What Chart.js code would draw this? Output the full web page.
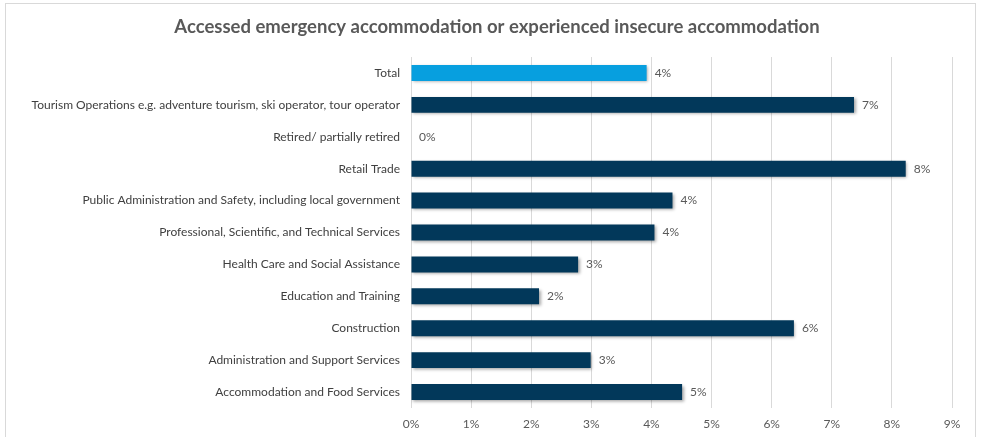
<!DOCTYPE html>
<html>
<head>
<meta charset="utf-8">
<script src="https://cdn.jsdelivr.net/npm/chart.js@4/dist/chart.umd.min.js"></script>
<style>
  body { margin: 0; background: #fff; }
  #wrap { position: absolute; left: 0; top: 0; width: 982px; height: 437px; }
  #frame { position: absolute; left: 5px; top: 3px; width: 969px; height: 440px; border: 1px solid #d9d9d9; pointer-events: none; }
</style>
</head>
<body>
<div id="wrap"><canvas id="chart" width="982" height="437"></canvas></div>
<div id="frame"></div>
<script>
// data
const chartTitle = 'Accessed emergency accommodation or experienced insecure accommodation';
const categories = [
  'Total',
  'Tourism Operations e.g. adventure tourism, ski operator, tour operator',
  'Retired/ partially retired',
  'Retail Trade',
  'Public Administration and Safety, including local government',
  'Professional, Scientific, and Technical Services',
  'Health Care and Social Assistance',
  'Education and Training',
  'Construction',
  'Administration and Support Services',
  'Accommodation and Food Services'
];
const values = [3.92, 7.37, 0, 8.23, 4.35, 4.05, 2.78, 2.13, 6.37, 2.99, 4.51];
const xTicks = [0, 1, 2, 3, 4, 5, 6, 7, 8, 9];

const FONT = 'Lato, "Open Sans", sans-serif';

// title centred on the frame, not on the chart box
const frameTitle = {
  id: 'frameTitle',
  afterDraw(chart) {
    const ctx = chart.ctx;
    ctx.save();
    ctx.font = 'bold 18.5px ' + FONT;
    ctx.fillStyle = '#595959';
    ctx.textAlign = 'center';
    ctx.textBaseline = 'middle';
    ctx.fillText(chartTitle, 497, 27);
    ctx.restore();
  }
};

// bar shadow + value labels
const barExtras = {
  id: 'barExtras',
  beforeDatasetsDraw(chart) {
    const ctx = chart.ctx;
    ctx.save();
    ctx.shadowColor = 'rgba(0,0,0,0.35)';
    ctx.shadowOffsetX = 1.5;
    ctx.shadowOffsetY = 1.5;
    ctx.shadowBlur = 3;
  },
  afterDatasetsDraw(chart) {
    const ctx = chart.ctx;
    ctx.restore();
    const meta = chart.getDatasetMeta(0);
    ctx.save();
    ctx.font = '12px ' + FONT;
    ctx.fillStyle = '#595959';
    ctx.textAlign = 'left';
    ctx.textBaseline = 'middle';
    meta.data.forEach((bar, i) => {
      ctx.fillText(Math.round(values[i]) + '%', bar.x + 8, bar.y);
    });
    ctx.restore();
  }
};

new Chart(document.getElementById('chart'), {
  type: 'bar',
  data: {
    labels: categories,
    datasets: [{
      data: values,
      backgroundColor: ctx => ctx.dataIndex === 0 ? '#079fdf' : '#02385a',
      barPercentage: 0.5,
      categoryPercentage: 1.0
    }]
  },
  options: {
    indexAxis: 'y',
    responsive: false,
    animation: false,
    layout: { padding: { top: 57, right: 30, bottom: 0, left: 0 } },
    plugins: {
      legend: { display: false },
      tooltip: { enabled: false },
      title: { display: false }
    },
    scales: {
      x: {
        min: 0,
        max: 9,
        afterBuildTicks: s => { s.ticks = xTicks.map(v => ({ value: v })); },
        afterFit: s => { s.height = 29; },
        grid: { color: '#d9d9d9', drawTicks: false },
        border: { display: false },
        ticks: {
          padding: 9,
          color: '#595959',
          font: { family: FONT, size: 12 },
          callback: v => v + '%'
        }
      },
      y: {
        afterFit: s => { s.width = 411; },
        grid: { display: false, drawTicks: false },
        border: { display: false },
        ticks: {
          padding: 11,
          color: '#404040',
          font: { family: FONT, size: 12 },
          autoSkip: false
        }
      }
    }
  },
  plugins: [barExtras, frameTitle]
});
</script>
</body>
</html>
